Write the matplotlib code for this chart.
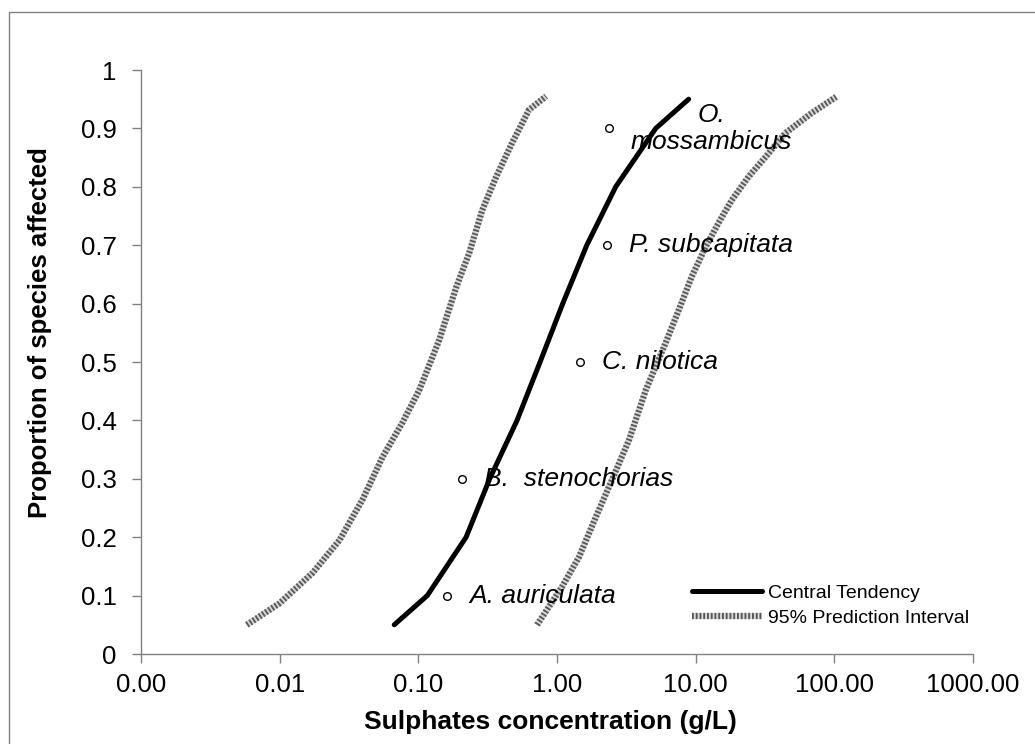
import matplotlib
matplotlib.use("Agg")
import matplotlib.pyplot as plt
from matplotlib.patches import Rectangle
from matplotlib.ticker import FixedLocator, FuncFormatter

plt.rcParams['font.family'] = ['Liberation Sans', 'DejaVu Sans']

# species toxicity points
species = ["A. auriculata", "B.  stenochorias", "C. nilotica", "P. subcapitata", "O.\nmossambicus"]
species_x = [0.162, 0.207, 1.47, 2.29, 2.37]
species_y = [0.1, 0.3, 0.5, 0.7, 0.9]

# central tendency of the SSD
central_x = [0.067, 0.116, 0.221, 0.327, 0.515, 0.755, 1.10, 1.64, 2.65, 5.15, 8.9]
central_y = [0.05, 0.1, 0.2, 0.3, 0.4, 0.5, 0.6, 0.7, 0.8, 0.9, 0.95]

# 95% prediction interval, lower and upper bounds
lower_x = [0.0058, 0.0100, 0.0173, 0.027, 0.0395, 0.0551, 0.0767, 0.1016,
           0.1416, 0.1876, 0.233, 0.289, 0.364, 0.474, 0.629, 0.834]
lower_y = [0.05, 0.087, 0.139, 0.195, 0.264, 0.337, 0.396, 0.452,
           0.538, 0.628, 0.687, 0.760, 0.817, 0.875, 0.932, 0.955]
upper_x = [0.718, 1.087, 1.44, 1.91, 2.49, 3.30, 4.37, 6.08, 7.55, 9.36,
           11.8, 14.6, 18.2, 24.0, 31.9, 44.4, 68.4, 103.0]
upper_y = [0.05, 0.115, 0.166, 0.235, 0.298, 0.366, 0.452, 0.533, 0.589, 0.646,
           0.697, 0.738, 0.777, 0.817, 0.851, 0.892, 0.926, 0.954]

x_ticks = [0.001, 0.01, 0.1, 1, 10, 100, 1000]
y_ticks = [0, 0.1, 0.2, 0.3, 0.4, 0.5, 0.6, 0.7, 0.8, 0.9, 1]

fig = plt.figure(figsize=(10.35, 7.44), dpi=100)
ax = fig.add_axes([141 / 1035, 1 - 654 / 744, 832 / 1035, 584 / 744])

# outer chart border (right/bottom edges fall outside the picture)
fig.patches.append(Rectangle((9 / 1035, -0.02), 1.02, 1 - 12 / 744 + 0.02,
                             transform=fig.transFigure, fill=False,
                             edgecolor='#808080', linewidth=1))

# prediction interval: pale grey band with dark halftone dots
pi_parts = []
for xs, ys in [(lower_x, lower_y), (upper_x, upper_y)]:
    base, = ax.plot(xs, ys, color='0.85', linewidth=4.5, solid_capstyle='butt')
    dots, = ax.plot(xs, ys, color='0.35', linewidth=4.5, dashes=(0.3, 0.3))
    pi_parts = [base, dots]

central, = ax.plot(central_x, central_y, color='black', linewidth=3.6,
                   solid_capstyle='round')

ax.plot(species_x, species_y, linestyle='none', marker='o', markersize=5.5,
        markerfacecolor='white', markeredgecolor='black', markeredgewidth=1)

for name, x, y in zip(species, species_x, species_y):
    ax.annotate(name, (x, y), xytext=(22, 0), textcoords='offset pixels',
                ha='left', va='center', multialignment='center',
                fontsize=19, fontstyle='italic')

ax.set_xscale('log')
ax.set_xlim(0.001, 1000)
ax.set_ylim(0, 1)
ax.xaxis.set_major_locator(FixedLocator(x_ticks))
ax.xaxis.set_minor_locator(FixedLocator([]))
ax.xaxis.set_major_formatter(FuncFormatter(lambda v, p: f"{v:.2f}"))
ax.set_yticks(y_ticks)
ax.yaxis.set_major_formatter(FuncFormatter(lambda v, p: f"{v:g}"))

for side in ['top', 'right']:
    ax.spines[side].set_visible(False)
for side in ['left', 'bottom']:
    ax.spines[side].set_color('#808080')
    ax.spines[side].set_linewidth(1)
ax.tick_params(axis='both', direction='out', length=6.5, width=1,
               color='#808080', labelsize=18.5)
ax.tick_params(axis='y', pad=11)
ax.tick_params(axis='x', pad=7)

ax.set_xlabel('Sulphates concentration (g/L)', fontsize=19, fontweight='bold', va='center')
ax.set_ylabel('Proportion of species affected', fontsize=18.5, fontweight='bold', va='center')
ax.xaxis.set_label_coords(0.4916, -0.116)
ax.yaxis.set_label_coords(-0.121, 0.55)

ax.legend([central, tuple(pi_parts)], ['Central Tendency', '95% Prediction Interval'],
          loc='upper left', bbox_to_anchor=(692 / 1035, 1 - 584 / 744),
          bbox_transform=fig.transFigure, frameon=False, fontsize=14,
          borderpad=0, borderaxespad=0, handlelength=3.6, handletextpad=0.3,
          labelspacing=0.4)

fig.savefig('out.png', dpi=100)
